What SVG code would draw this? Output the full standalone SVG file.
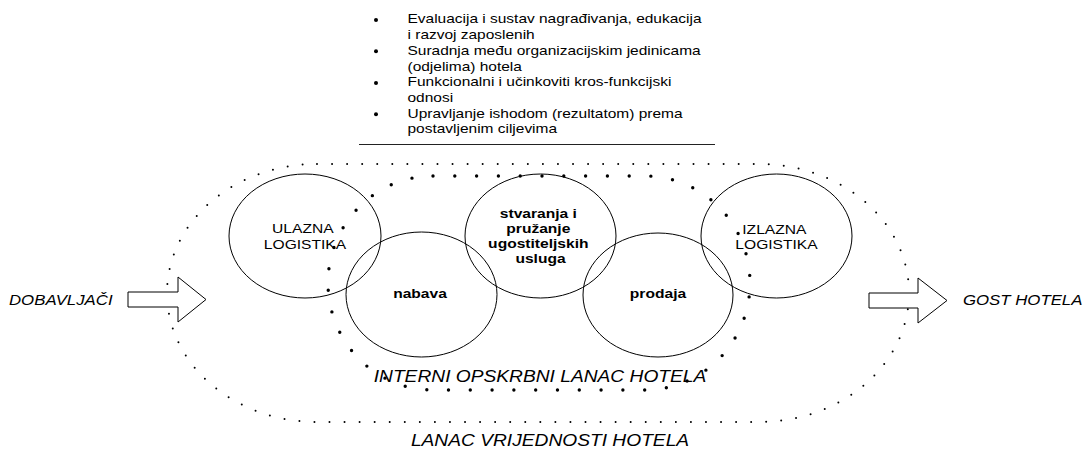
<svg xmlns="http://www.w3.org/2000/svg" width="1088" height="450" viewBox="0 0 1088 450">
<style>
  text { font-family: "Liberation Sans", Arial, sans-serif; fill: #000; }
  .bl { font-size: 12.9px; }
  .lbl { font-size: 13px; }
  .b { font-size: 13px; font-weight: bold; }
  .it { font-style: italic; }
  .circ { fill: none; stroke: #000; stroke-width: 1; }
  .outer { fill: none; stroke: #000; stroke-width: 2; stroke-linecap: round; stroke-dasharray: 0 15.06; }
  .inner { fill: none; stroke: #000; stroke-width: 3.4; stroke-linecap: round; stroke-dasharray: 0 21.8; }
  .arrow { fill: #fff; stroke: #000; stroke-width: 1; }
</style>
<rect width="1088" height="450" fill="#fff"/>

<g id="bullets">
  <g fill="#000">
    <circle cx="376" cy="20" r="2"/>
    <circle cx="376" cy="51.2" r="2"/>
    <circle cx="376" cy="83" r="2"/>
    <circle cx="376" cy="114.2" r="2"/>
  </g>
  <text class="bl" transform="translate(407.5 0) scale(1.2 1)">
    <tspan x="0" y="23.5">Evaluacija i sustav nagrađivanja, edukacija</tspan>
    <tspan x="0" y="39.2">i razvoj zaposlenih</tspan>
    <tspan x="0" y="54.9">Suradnja među organizacijskim jedinicama</tspan>
    <tspan x="0" y="70.6">(odjelima) hotela</tspan>
    <tspan x="0" y="86.3">Funkcionalni i učinkoviti kros-funkcijski</tspan>
    <tspan x="0" y="102">odnosi</tspan>
    <tspan x="0" y="117.7">Upravljanje ishodom (rezultatom) prema</tspan>
    <tspan x="0" y="133.4">postavljenim ciljevima</tspan>
  </text>
  <line x1="359" y1="144.5" x2="715" y2="144.5" stroke="#222" stroke-width="1"/>
</g>

<g id="lanac-vrijednosti">
  <rect class="outer" x="167" y="164" width="742" height="258" rx="150" ry="129"/>
  <text class="it" font-size="16" text-anchor="middle" transform="translate(550 446) scale(1.2 1)">LANAC VRIJEDNOSTI HOTELA</text>
</g>

<g id="interni-lanac">
  <rect class="inner" x="328" y="176" width="422" height="214" rx="105" ry="107"/>
  <text class="it" font-size="16" text-anchor="middle" transform="translate(540 382) scale(1.2 1)">INTERNI OPSKRBNI LANAC HOTELA</text>
</g>

<g id="ulazna-logistika">
  <ellipse class="circ" cx="305" cy="236" rx="76" ry="62"/>
  <text class="lbl" text-anchor="middle" transform="translate(305 0) scale(1.2 1)">
    <tspan x="0" y="233.5">ULAZNA</tspan>
    <tspan x="0" y="249">LOGISTIKA</tspan>
  </text>
</g>

<g id="nabava">
  <ellipse class="circ" cx="421.5" cy="294.5" rx="75.5" ry="62.5"/>
  <text class="b" text-anchor="middle" transform="translate(420 298) scale(1.2 1)">nabava</text>
</g>

<g id="stvaranja">
  <ellipse class="circ" cx="540.5" cy="236" rx="75.5" ry="62"/>
  <text class="b" text-anchor="middle" transform="translate(540.5 0) scale(1.2 1)">
    <tspan x="0" y="218.3">stvaranja i</tspan>
    <tspan x="0" y="233.3">pružanje</tspan>
    <tspan x="0" y="248.3">ugostiteljskih</tspan>
    <tspan x="0" y="263.3">usluga</tspan>
  </text>
</g>

<g id="prodaja">
  <ellipse class="circ" cx="658" cy="295" rx="75" ry="62"/>
  <text class="b" text-anchor="middle" transform="translate(658 298) scale(1.2 1)">prodaja</text>
</g>

<g id="izlazna-logistika">
  <ellipse class="circ" cx="776.5" cy="236" rx="75.5" ry="62"/>
  <text class="lbl" text-anchor="middle" transform="translate(776.5 0) scale(1.2 1)">
    <tspan x="0" y="234">IZLAZNA</tspan>
    <tspan x="0" y="249.5">LOGISTIKA</tspan>
  </text>
</g>

<g id="dobavljaci">
  <text class="it" font-size="14" transform="translate(9 305) scale(1.2 1)">DOBAVLJAČI</text>
</g>

<g id="gost-hotela">
  <text class="it" font-size="14" transform="translate(963 305) scale(1.2 1)">GOST HOTELA</text>
</g>

<g id="connectors">
  <polygon class="arrow" points="128,292 178,292 178,277 206,299.5 178,322 178,307 128,307"/>
  <polygon class="arrow" points="869,293 918,293 918,278 947,300.5 918,323 918,308 869,308"/>
</g>
</svg>
